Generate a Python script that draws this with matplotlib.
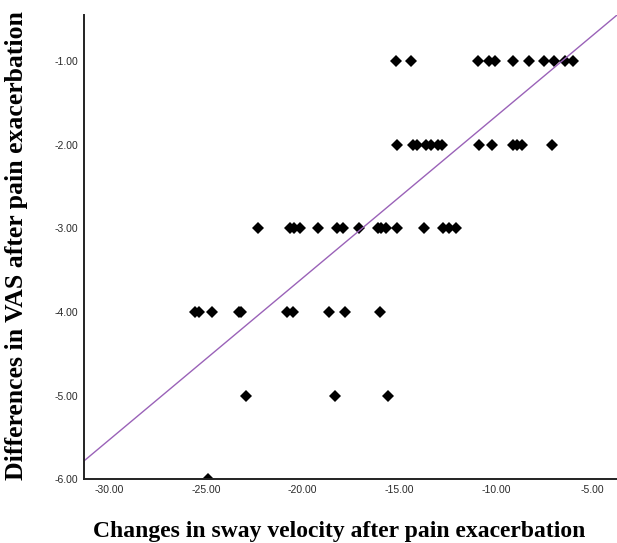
import matplotlib
matplotlib.use("Agg")
import matplotlib.pyplot as plt
import numpy as np

# values, grouped by VAS level
sway_vas_1 = [-15.17, -14.41, -10.90, -10.33, -10.02, -9.10, -8.30, -7.50, -6.98, -6.40, -6.00]
sway_vas_2 = [-15.10, -14.28, -14.08, -13.63, -13.35, -13.00, -12.78,
              -10.88, -10.20, -9.13, -8.88, -8.62, -7.10]
sway_vas_3 = [-22.30, -20.63, -20.42, -20.13, -19.20, -18.24, -17.92, -17.08,
              -16.12, -15.92, -15.68, -15.10, -13.70, -12.72, -12.42, -12.04]
sway_vas_4 = [-25.58, -25.33, -24.68, -23.30, -23.20, -20.80, -20.50, -18.62, -17.80, -16.00]
sway_vas_5 = [-22.90, -18.30, -15.60]
sway_vas_6 = [-24.90]

vas_levels = [-1.0, -2.0, -3.0, -4.0, -5.0, -6.0]
sway_groups = [sway_vas_1, sway_vas_2, sway_vas_3, sway_vas_4, sway_vas_5, sway_vas_6]

# fit line as drawn in the figure
fit_slope = 0.1933
fit_intercept = 0.271

x_ticks = [-30, -25, -20, -15, -10, -5]
y_ticks = [-1, -2, -3, -4, -5, -6]

sway = np.concatenate([np.array(g) for g in sway_groups])
vas = np.concatenate([np.full(len(g), v) for g, v in zip(sway_groups, vas_levels)])

fig = plt.figure(figsize=(6.17, 5.43), dpi=100)
ax = fig.add_axes([0.136, 0.1173, 0.864, 0.855])

xmin, xmax = -31.31, -3.73
ax.set_xlim(xmin, xmax)
ax.set_ylim(-6.0, -0.45)

ax.plot(sway, vas, linestyle="none", marker="D", markersize=5.8,
        color="black", markeredgewidth=0)

xl = np.array([xmin, xmax])
ax.plot(xl, fit_intercept + fit_slope * xl, color="#9a62b8", linewidth=1.0)

ax.set_xticks(x_ticks)
ax.set_xticklabels([f"{t:.2f}" for t in x_ticks])
ax.set_yticks(y_ticks)
ax.set_yticklabels([f"{t:.2f}" for t in y_ticks])

for lab in ax.get_xticklabels() + ax.get_yticklabels():
    lab.set_family("Liberation Sans")
    lab.set_fontsize(7.5)
    lab.set_color("#2a2a2a")
ax.tick_params(axis="both", length=0, pad=4)

for s in ["top", "right"]:
    ax.spines[s].set_visible(False)
for s in ["left", "bottom"]:
    ax.spines[s].set_linewidth(1.4)
    ax.spines[s].set_color("#222222")

fig.text(0.549, 0.011, "Changes in sway velocity after pain exacerbation",
         family="Liberation Serif", weight="bold", fontsize=17,
         ha="center", va="baseline")
fig.text(0.026, 0.548, "Differences in VAS after pain exacerbation",
         family="Liberation Serif", weight="bold", fontsize=18.5,
         rotation=90, ha="center", va="center")

fig.savefig("out.png", dpi=100)
